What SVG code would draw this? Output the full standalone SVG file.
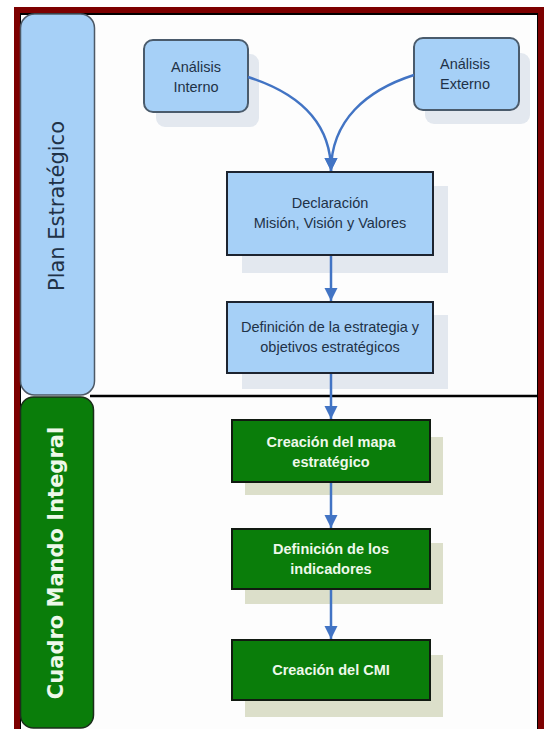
<svg xmlns="http://www.w3.org/2000/svg" width="544" height="729" viewBox="0 0 544 729">
  <style>
    .lbl { font-family: "Liberation Sans", Arial, sans-serif; font-size: 14.5px; fill: #1f3247; text-anchor: middle; }
    .glbl { font-family: "Liberation Sans", Arial, sans-serif; font-size: 14.5px; font-weight: bold; fill: #eef8ea; text-anchor: middle; }
    .bnode { fill: #a6d0f7; stroke: #1d2430; stroke-width: 2; }
    .anode { fill: #a6d0f7; stroke: #4a5b6c; stroke-width: 2; }
    .gnode { fill: #0a7d0a; stroke: #111a11; stroke-width: 2; }
    .bshadow { fill: #e3e8ef; }
    .gshadow { fill: #dcdfca; }
    .conn { fill: none; stroke: #4274c4; stroke-width: 2.5; }
  </style>
  <defs>
    <marker id="arrow" markerUnits="userSpaceOnUse" markerWidth="14" markerHeight="14" refX="13" refY="6.5" orient="auto">
      <path d="M0,0 L13,6.5 L0,13 z" fill="#4274c4"/>
    </marker>
  </defs>
  <rect x="0" y="0" width="544" height="729" fill="#ffffff"/>
  <rect x="20" y="13" width="518" height="730" fill="#fdfdfd"/>
  <g id="frame">
    <rect x="20" y="14" width="518" height="740" fill="none" stroke="#000000" stroke-width="2"/>
    <rect x="17" y="10" width="524" height="750" fill="none" stroke="#7d0000" stroke-width="6"/>
    <line x1="90" y1="396" x2="538" y2="396" stroke="#000000" stroke-width="2.5"/>
  </g>
  <g id="lane-plan">
    <rect x="20.5" y="14" width="74" height="381" rx="14" fill="#a6d0f7" stroke="#4d5966" stroke-width="1.5"/>
    <text transform="translate(64,206) rotate(-90)" font-family="DejaVu Sans, sans-serif" font-size="21" fill="#1f3247" text-anchor="middle">Plan Estratégico</text>
  </g>
  <g id="lane-cmi">
    <rect x="20.5" y="397" width="73" height="331" rx="13" fill="#0a7d0a" stroke="#1b2e1b" stroke-width="1.5"/>
    <text transform="translate(63,563) rotate(-90)" font-family="DejaVu Sans, sans-serif" font-size="21" font-weight="bold" fill="#eef8ea" text-anchor="middle">Cuadro Mando Integral</text>
  </g>
  <g id="analisis-interno">
    <rect class="bshadow" x="156" y="54" width="103" height="73" rx="9"/>
    <rect class="anode" x="144" y="40" width="104" height="72" rx="9"/>
    <text class="lbl" x="196" y="71.5" font-size="14">Análisis</text>
    <text class="lbl" x="196" y="91.5" font-size="14">Interno</text>
  </g>
  <g id="analisis-externo">
    <rect class="bshadow" x="425" y="53" width="105" height="71" rx="9"/>
    <rect class="anode" x="414" y="38" width="105" height="72" rx="9"/>
    <text class="lbl" x="465" y="68.5" font-size="14">Análisis</text>
    <text class="lbl" x="465" y="88.5" font-size="14">Externo</text>
  </g>
  <g id="declaracion">
    <rect class="bshadow" x="242" y="186" width="206" height="87"/>
    <rect class="bnode" x="227" y="172" width="206" height="83"/>
    <text class="lbl" x="330" y="208">Declaración</text>
    <text class="lbl" x="330" y="228">Misión, Visión y Valores</text>
  </g>
  <g id="definicion-estrategia">
    <rect class="bshadow" x="242" y="315" width="206" height="74"/>
    <rect class="bnode" x="227" y="302" width="206" height="71"/>
    <text class="lbl" x="330" y="332">Definición de la estrategia y</text>
    <text class="lbl" x="330" y="352">objetivos estratégicos</text>
  </g>
  <g id="mapa-estrategico">
    <rect class="gshadow" x="245" y="437" width="198" height="58"/>
    <rect class="gnode" x="232" y="420" width="198" height="62"/>
    <text class="glbl" x="331" y="447">Creación del mapa</text>
    <text class="glbl" x="331" y="467">estratégico</text>
  </g>
  <g id="indicadores">
    <rect class="gshadow" x="245" y="543" width="198" height="61"/>
    <rect class="gnode" x="232" y="529" width="198" height="60"/>
    <text class="glbl" x="331" y="554">Definición de los</text>
    <text class="glbl" x="331" y="574">indicadores</text>
  </g>
  <g id="cmi">
    <rect class="gshadow" x="245" y="655" width="198" height="62"/>
    <rect class="gnode" x="232" y="640" width="198" height="60"/>
    <text class="glbl" x="331" y="675">Creación del CMI</text>
  </g>
  <g id="connectors">
    <path class="conn" d="M248,77 C295,92 331,120 331,171" marker-end="url(#arrow)"/>
    <path class="conn" d="M414,75 C367,90 331,120 331,171" marker-end="url(#arrow)"/>
    <line class="conn" x1="331" y1="256" x2="331" y2="301" marker-end="url(#arrow)"/>
    <line class="conn" x1="331" y1="374" x2="331" y2="419" marker-end="url(#arrow)"/>
    <line class="conn" x1="331" y1="483" x2="331" y2="528" marker-end="url(#arrow)"/>
    <line class="conn" x1="331" y1="590" x2="331" y2="639" marker-end="url(#arrow)"/>
  </g>
</svg>
